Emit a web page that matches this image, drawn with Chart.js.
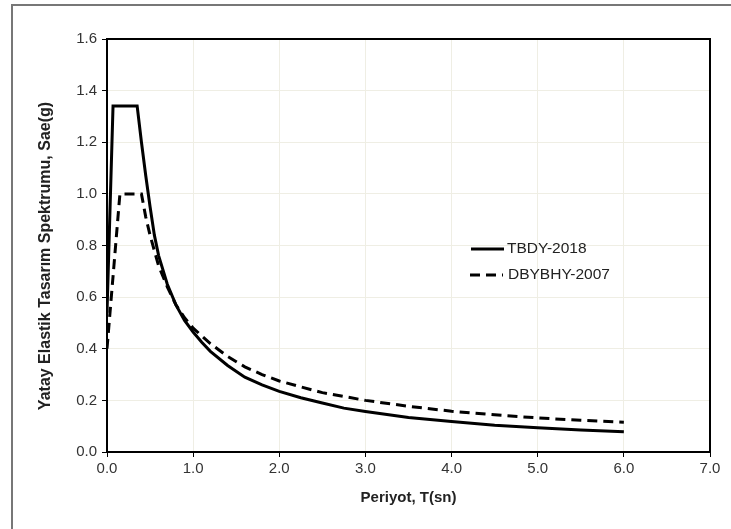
<!DOCTYPE html>
<html>
<head>
<meta charset="utf-8">
<script src="https://cdn.jsdelivr.net/npm/chart.js@4.4.1/dist/chart.umd.min.js"></script>
<style>
    body { margin: 0; background: #fff; }
    #wrap { position: relative; width: 731px; height: 529px; }
    #frame { position: absolute; left: 11px; top: 4px; right: 0; bottom: 0;
             border-left: 2px solid #777; border-top: 2px solid #777; }
    canvas { position: absolute; left: 0; top: 0; }
</style>
</head>
<body>
<div id="wrap">
    <div id="frame"></div>
    <canvas id="spectrumChart" width="731" height="529"></canvas>
</div>
<script>
// periods (s) and spectral accelerations (g)
const tbdyPeriods = [0, 0.07, 0.35, 0.4, 0.45, 0.5, 0.55, 0.6, 0.7, 0.8, 0.9, 1.0, 1.1, 1.2, 1.4, 1.6, 1.8, 2.0, 2.25, 2.5, 2.75, 3.0, 3.5, 4.0, 4.5, 5.0, 5.5, 6.0];
const tbdySae = [0.54, 1.34, 1.34, 1.20, 1.07, 0.95, 0.84, 0.76, 0.65, 0.57, 0.51, 0.465, 0.425, 0.39, 0.335, 0.29, 0.26, 0.235, 0.21, 0.19, 0.17, 0.157, 0.134, 0.118, 0.104, 0.094, 0.085, 0.078];

const dbybhyPeriods = [0, 0.15, 0.4, 0.45, 0.5, 0.6, 0.7, 0.8, 0.9, 1.0, 1.2, 1.4, 1.6, 1.8, 2.0, 2.5, 3.0, 3.5, 4.0, 4.5, 5.0, 5.5, 6.0];
const dbybhySae = [0.40, 1.0, 1.0, 0.91, 0.84, 0.72, 0.64, 0.57, 0.52, 0.48, 0.42, 0.37, 0.33, 0.30, 0.275, 0.23, 0.20, 0.177, 0.158, 0.144, 0.132, 0.123, 0.115];

const seriesNames = ["TBDY-2018", "DBYBHY-2007"];
const xTitle = "Periyot, T(sn)";
const yTitle = "Yatay Elastik Tasarım Spektrumu, Sae(g)";

const toPoints = (xs, ys) => xs.map((x, i) => ({ x: x, y: ys[i] }));

const fontFamily = "Arial, 'Liberation Sans', sans-serif";
const gridColor = "#efeee4";

// box round the plot area (top and right edges too)
const plotBox = {
    id: "plotBox",
    afterDatasetsDraw(chart) {
        const { ctx, chartArea: a } = chart;
        ctx.save();
        ctx.strokeStyle = "#000";
        ctx.lineWidth = 2;
        ctx.strokeRect(a.left, a.top, a.right - a.left, a.bottom - a.top);
        ctx.restore();
    }
};

// y title sits a bit below the plot centre in the original, so draw it here
const yAxisTitle = {
    id: "yAxisTitle",
    afterDraw(chart) {
        const ctx = chart.ctx;
        ctx.save();
        ctx.translate(46, 256);
        ctx.rotate(-Math.PI / 2);
        ctx.fillStyle = "#222";
        ctx.font = "bold 16px " + fontFamily;
        ctx.textAlign = "center";
        ctx.textBaseline = "middle";
        ctx.fillText(yTitle, 0, 0);
        ctx.restore();
    }
};

// legend drawn inside the plot, like the original
const insideLegend = {
    id: "insideLegend",
    afterDraw(chart) {
        const ctx = chart.ctx;
        const rows = [
            { y: 249, x0: 471, x1: 504, tx: 507 },
            { y: 275, x0: 470, x1: 503, tx: 508 }
        ];
        ctx.save();
        chart.data.datasets.forEach((ds, i) => {
            const r = rows[i];
            ctx.beginPath();
            ctx.strokeStyle = ds.borderColor;
            ctx.lineWidth = ds.borderWidth;
            ctx.setLineDash(ds.borderDash || []);
            ctx.moveTo(r.x0, r.y);
            ctx.lineTo(r.x1, r.y);
            ctx.stroke();
            ctx.setLineDash([]);
            ctx.fillStyle = "#222";
            ctx.font = "15.5px " + fontFamily;
            ctx.textBaseline = "middle";
            ctx.textAlign = "left";
            ctx.fillText(ds.label, r.tx, r.y);
        });
        ctx.restore();
    }
};

const ctx = document.getElementById("spectrumChart").getContext("2d");
new Chart(ctx, {
    type: "line",
    data: {
        datasets: [
            {
                label: seriesNames[0],
                data: toPoints(tbdyPeriods, tbdySae),
                borderColor: "#000",
                borderWidth: 3,
                pointRadius: 0,
                tension: 0,
                borderJoinStyle: "miter"
            },
            {
                label: seriesNames[1],
                data: toPoints(dbybhyPeriods, dbybhySae),
                borderColor: "#000",
                borderWidth: 3,
                borderDash: [10, 6],
                pointRadius: 0,
                tension: 0,
                borderJoinStyle: "miter"
            }
        ]
    },
    options: {
        responsive: false,
        animation: false,
        layout: { padding: { top: 39, right: 21, left: 0, bottom: 0 } },
        plugins: {
            legend: { display: false },
            tooltip: { enabled: false }
        },
        scales: {
            x: {
                type: "linear",
                min: 0,
                max: 7,
                ticks: {
                    stepSize: 1,
                    padding: 3,
                    color: "#333",
                    font: { size: 15, family: fontFamily },
                    callback: v => v.toFixed(1)
                },
                grid: { color: gridColor, tickColor: "#000", tickLength: 5 },
                border: { color: "#000", width: 2 },
                title: {
                    display: true,
                    text: xTitle,
                    color: "#222",
                    font: { size: 15, weight: "bold", family: fontFamily },
                    padding: { top: 0, bottom: 22 }
                },
                afterFit: scale => { scale.height = 77; }
            },
            y: {
                min: 0,
                max: 1.6,
                ticks: {
                    stepSize: 0.2,
                    padding: 5,
                    color: "#333",
                    font: { size: 15, family: fontFamily },
                    callback: v => v.toFixed(1)
                },
                grid: { color: gridColor, tickColor: "#000", tickLength: 5 },
                border: { color: "#000", width: 2 },
                afterFit: scale => { scale.width = 107; }
            }
        }
    },
    plugins: [plotBox, yAxisTitle, insideLegend]
});
</script>
</body>
</html>
